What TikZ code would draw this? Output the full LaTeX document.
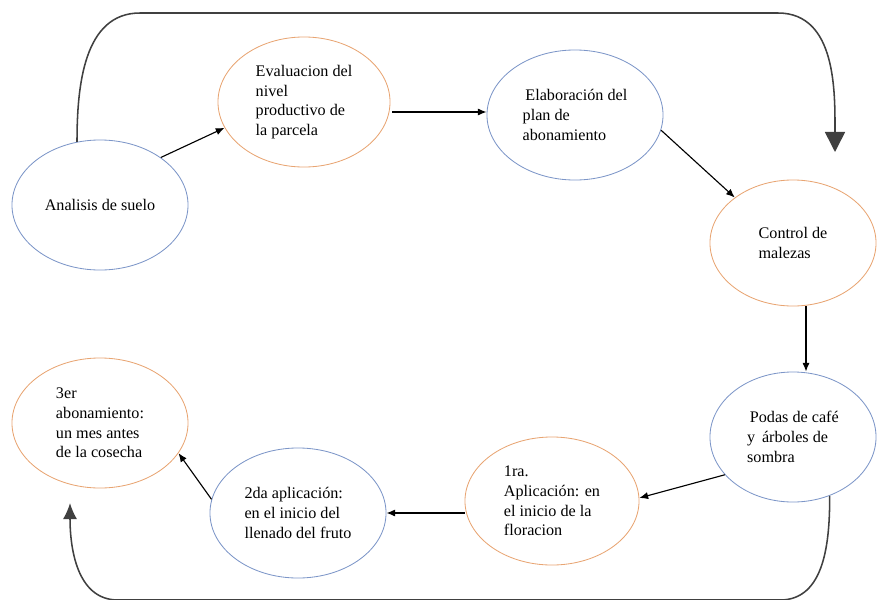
\documentclass[tikz,border=0pt]{standalone}
\usepackage{fontspec}
\setmainfont{Liberation Serif}
\usetikzlibrary{positioning,shapes.geometric,arrows.meta}

\definecolor{stepblue}{RGB}{125,150,200}
\definecolor{steporange}{RGB}{232,165,115}

\begin{document}
\begin{tikzpicture}[
    x=0.025cm,y=-0.025cm,
    stage/.style={ellipse,draw,semithick,inner sep=0pt,align=left,text=black,
      minimum width=4.4cm,minimum height=3.25cm,
      font=\fontsize{11.5}{14}\selectfont},
    bluestage/.style={stage,draw=stepblue},
    orangestage/.style={stage,draw=steporange},
    flow/.style={-{Latex[length=2.2mm,width=1.8mm]},thick},
    loopline/.style={line width=1.1pt,black!75}
    ]

    \useasboundingbox (0,0) rectangle (877,600);

    \node (ana) [bluestage] at (100,205) {Analisis de suelo};
    \node (eva) [orangestage,minimum width=4.3cm] at (304,102) {Evaluacion del\\nivel\\productivo de\\la parcela};
    \node (ela) [bluestage] at (575,115) {\,Elaboración del\\plan de\\abonamiento};
    \node (con) [orangestage,minimum width=4.15cm,minimum height=3.15cm] at (793,243) {Control de\\malezas};
    \node (pod) [bluestage,minimum width=4.15cm] at (793,437) {\,Podas de café\\y\, árboles de\\sombra};
    \node (pri) [orangestage,minimum width=4.35cm,minimum height=3.2cm] at (552,501) {1ra.\\Aplicación: en\\el inicio de la\\floracion};
    \node (seg) [bluestage] at (298,513) {2da aplicación:\\en el inicio del\\llenado del fruto};
    \node (ter) [orangestage] at (100,423) {3er\\abonamiento:\\un mes antes\\de la cosecha};

    \draw[flow] (ana.38) -- (eva.198);
    \draw[flow] (eva.east) ++(2,10) coordinate (e1) (e1) -- (ela.west |- e1);
    \draw[flow] (ela.-10) -- (con.142);
    \draw[flow] (con.south) ++(13,0) coordinate (c1) (c1) -- (pod.north -| c1);
    \draw[flow] (pod.209) -- (pri.2);
    \draw[flow] (pri.west) ++(0,12) coordinate (p1) (p1) -- (seg.east |- p1);
    \draw[flow] (seg.171) -- (ter.-21);

    % return loops
    \coordinate (tl) at (140,13);
    \coordinate (tr) at (778,13);
    \coordinate (topend) at (835,152);
    \draw[loopline,-{Triangle[length=5mm,width=5mm]}] (ana.110) to[out=90,in=180] (tl) -- (tr) to[out=0,in=90] (topend);

    \coordinate (br) at (780,600);
    \coordinate (bl) at (118,600);
    \coordinate (botend) at (70,503);
    \draw[loopline,-{Latex[length=4mm,width=3.5mm]}] (pod.-58) to[out=-90,in=0] (br) -- (bl) to[out=180,in=-90] (botend);

  \end{tikzpicture}
\end{document}
